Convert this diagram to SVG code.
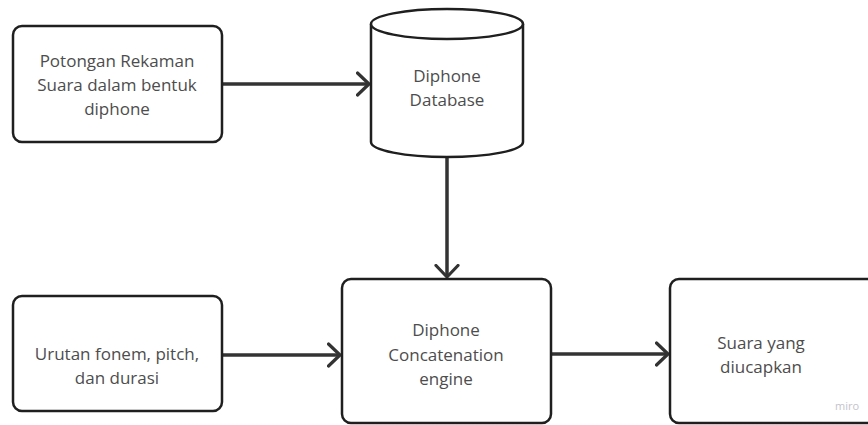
<svg xmlns="http://www.w3.org/2000/svg" width="868" height="425" viewBox="0 0 868 425">
<style>
.box{fill:#fff;stroke:#1f1f1f;stroke-width:2.5}
.lbl{font-family:"Open Sans","Noto Sans",sans-serif;font-size:17px;fill:#4d4d4d;text-anchor:middle}
.conn{fill:none;stroke:#333;stroke-width:3.5}
.wm{font-family:"Open Sans",sans-serif;font-size:11px;fill:#c4c4cc;text-anchor:middle}
</style>
<defs>
<marker id="arr" viewBox="0 0 16 26" refX="13.5" refY="13" markerWidth="16" markerHeight="26" markerUnits="userSpaceOnUse" orient="auto">
<path d="M2,2 L13.5,13 L2,24" fill="none" stroke="#333" stroke-width="3.2" stroke-linecap="round" stroke-linejoin="round"/>
</marker>
</defs>
<rect width="868" height="425" fill="#fff"/>
<g id="connectors">
<line class="conn" x1="222" y1="84" x2="369" y2="84" marker-end="url(#arr)"/>
<line class="conn" x1="447" y1="157" x2="447" y2="277" marker-end="url(#arr)"/>
<line class="conn" x1="222" y1="355" x2="340" y2="355" marker-end="url(#arr)"/>
<line class="conn" x1="552" y1="354" x2="668" y2="354" marker-end="url(#arr)"/>
</g>
<g id="potongan">
<rect class="box" x="13" y="26" width="209" height="116" rx="9"/>
<text class="lbl" x="117" y="67">Potongan Rekaman</text>
<text class="lbl" x="117" y="91">Suara dalam bentuk</text>
<text class="lbl" x="117" y="115">diphone</text>
</g>
<g id="database">
<path class="box" d="M371,24 L371,142 A76,15 0 0 0 523,142 L523,24"/>
<ellipse class="box" cx="447" cy="24" rx="76" ry="15"/>
<text class="lbl" x="447" y="82">Diphone</text>
<text class="lbl" x="447" y="106">Database</text>
</g>
<g id="urutan">
<rect class="box" x="13" y="296" width="209" height="115" rx="9"/>
<text class="lbl" x="117" y="360">Urutan fonem, pitch,</text>
<text class="lbl" x="117" y="384">dan durasi</text>
</g>
<g id="engine">
<rect class="box" x="342" y="279" width="209" height="144" rx="9"/>
<text class="lbl" x="446" y="336">Diphone</text>
<text class="lbl" x="446" y="361">Concatenation</text>
<text class="lbl" x="446" y="385">engine</text>
</g>
<g id="suara">
<rect class="box" x="670" y="279" width="220" height="144" rx="9"/>
<text class="lbl" x="761" y="349">Suara yang</text>
<text class="lbl" x="761" y="373">diucapkan</text>
</g>
<text class="wm" x="847" y="410">miro</text>
</svg>
